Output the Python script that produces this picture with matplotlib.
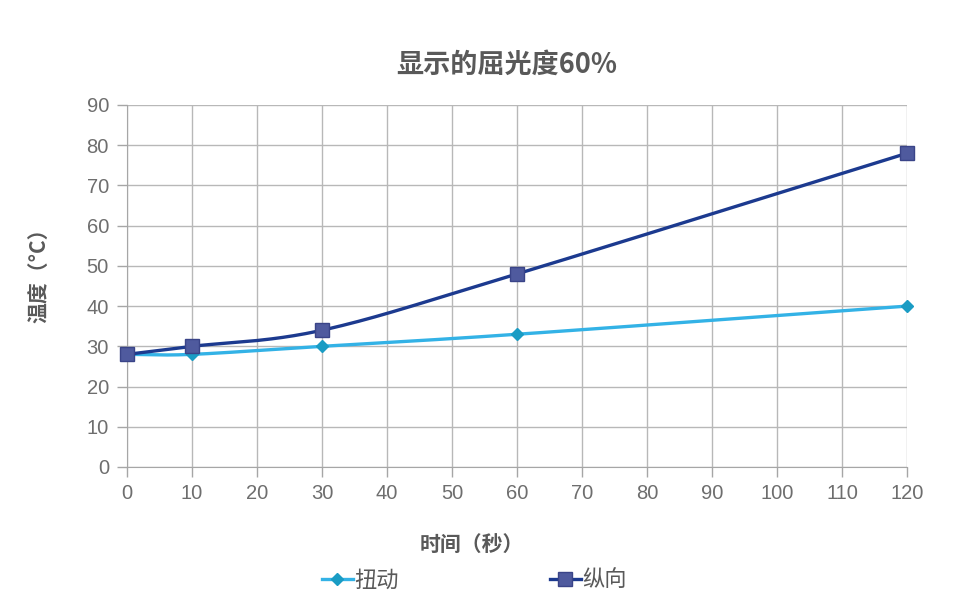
import matplotlib
matplotlib.use("Agg")
import matplotlib.pyplot as plt
import numpy as np
from matplotlib.lines import Line2D

plt.rcParams['font.family'] = ['Noto Sans CJK SC', 'DejaVu Sans']

x_vals = [0, 10, 30, 60, 120]
niudong = [28, 28, 30, 33, 40]
zongxiang = [28, 30, 34, 48, 78]
x_ticks = list(range(0, 121, 10))
y_ticks = list(range(0, 91, 10))

title = "显示的屈光度60%"
xlabel = "时间（秒）"
ylabel = "温度（°C）"
labels = ["扭动", "纵向"]


def smooth(xs, ys, n=40):
    # Catmull-Rom style smoothing (like Excel smoothed line), rendering only
    xs = np.asarray(xs, float); ys = np.asarray(ys, float)
    px = np.concatenate([[2*xs[0]-xs[1]], xs, [2*xs[-1]-xs[-2]]])
    py = np.concatenate([[2*ys[0]-ys[1]], ys, [2*ys[-1]-ys[-2]]])
    ox, oy = [], []
    for i in range(1, len(px)-2):
        p0, p1, p2, p3 = [np.array([px[j], py[j]]) for j in (i-1, i, i+1, i+2)]
        t = np.linspace(0, 1, n)[:, None]
        c1 = p1 + (p2 - p0) / 6
        c2 = p2 - (p3 - p1) / 6
        b = ((1-t)**3)*p1 + 3*((1-t)**2)*t*c1 + 3*(1-t)*t**2*c2 + t**3*p2
        ox.extend(b[:, 0]); oy.extend(b[:, 1])
    return np.array(ox), np.array(oy)


fig = plt.figure(figsize=(9.62, 6.12), dpi=100)
ax = fig.add_axes([127/962, 1-467/612, 780/962, 362/612])

gray = '#595959'
tick_gray = '#6e6e6e'
c1_line, c1_mark = '#33b2e6', '#1a9cc4'
c2_line, c2_mark = '#1c3a8f', '#4f5a9e'

sx, sy = smooth(x_vals, niudong)
ax.plot(sx, sy, color=c1_line, lw=2.4, zorder=3, clip_on=False)
ax.plot(x_vals, niudong, ls='none', marker='D', ms=6, color=c1_mark, zorder=4, clip_on=False)
sx, sy = smooth(x_vals, zongxiang)
ax.plot(sx, sy, color=c2_line, lw=2.4, zorder=3, clip_on=False)
ax.plot(x_vals, zongxiang, ls='none', marker='s', ms=9.5, mfc=c2_mark, mec='#3a4488',
        mew=1, zorder=5, clip_on=False)

ax.set_xlim(0, 120)
ax.set_ylim(0, 90)
ax.set_xticks(x_ticks)
ax.set_yticks(y_ticks)
ax.grid(True, color='#b8b8b8', lw=1)
ax.set_axisbelow(True)
for s in ['top', 'right']:
    ax.spines[s].set_visible(False)
for s in ['left', 'bottom']:
    ax.spines[s].set_color('#a6a6a6')
ax.tick_params(axis='both', colors='#a6a6a6', labelcolor=tick_gray, labelsize=14.5,
               length=7, width=1)
for lab in ax.get_xticklabels() + ax.get_yticklabels():
    lab.set_family(['Liberation Sans', 'DejaVu Sans'])
ax.tick_params(axis='x', pad=5)
ax.tick_params(axis='y', pad=6)

fig.text(507/962, 1 - 65/612, title, ha='center', va='center',
         fontsize=19.5, fontweight='bold', color=gray)
fig.text(472/962, 1 - 545/612, xlabel, ha='center', va='center',
         fontsize=15, fontweight='bold', color=gray)
fig.text(40/962, 1 - 270/612, ylabel, ha='center', va='center', rotation=90,
         fontsize=15, fontweight='bold', color=gray)

h1 = Line2D([], [], color=c1_line, lw=2.4, marker='D', ms=6, mfc=c1_mark, mec=c1_mark)
h2 = Line2D([], [], color=c2_line, lw=2.4, marker='s', ms=9.5, mfc=c2_mark, mec='#3a4488')
leg = fig.legend([h1, h2], labels, loc='center', bbox_to_anchor=(474/962, 1 - 580/612),
                 ncol=2, frameon=False, fontsize=16, handlelength=1.4, handletextpad=0.05,
                 columnspacing=6.8)
for t in leg.get_texts():
    t.set_color(gray)

fig.savefig('out.png', dpi=100, facecolor='white')
